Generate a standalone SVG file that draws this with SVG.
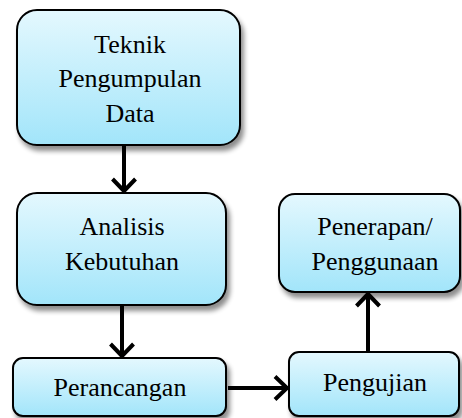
<svg xmlns="http://www.w3.org/2000/svg" width="462" height="418" viewBox="0 0 462 418">
<defs>
<linearGradient id="g" x1="0" y1="0" x2="0" y2="1">
<stop offset="0" stop-color="#e4f8fe"/>
<stop offset="1" stop-color="#a2e5fa"/>
</linearGradient>
<filter id="sh" x="-10%" y="-10%" width="125%" height="130%">
<feGaussianBlur in="SourceAlpha" stdDeviation="2.5"/>
<feOffset dx="3" dy="5"/>
<feComponentTransfer><feFuncA type="linear" slope="0.45"/></feComponentTransfer>
<feMerge><feMergeNode/><feMergeNode in="SourceGraphic"/></feMerge>
</filter>
<marker id="ah" viewBox="0 0 26 26" refX="23" refY="13" markerWidth="26" markerHeight="26" markerUnits="userSpaceOnUse" orient="auto">
<path d="M11 1.5 L23 13 L11 24.5" fill="none" stroke="#000" stroke-width="4" stroke-linejoin="miter"/>
</marker>
</defs>
<style>
.box{fill:url(#g);stroke:#000;stroke-width:2;filter:url(#sh)}
.c{stroke:#000;stroke-width:4;fill:none;marker-end:url(#ah)}
</style>
<g id="n1"><rect class="box" x="17" y="10" width="223" height="135" rx="20"/>
<text x="130" y="53" font-family="Tinos, 'Liberation Serif', serif" font-size="26" text-anchor="middle">Teknik</text>
<text x="130" y="87" font-family="Tinos, 'Liberation Serif', serif" font-size="26" text-anchor="middle">Pengumpulan</text>
<text x="130" y="122" font-family="Tinos, 'Liberation Serif', serif" font-size="26" text-anchor="middle">Data</text></g>
<g id="n2"><rect class="box" x="17" y="193" width="209" height="112" rx="20"/>
<text x="122" y="235" font-family="Tinos, 'Liberation Serif', serif" font-size="26" text-anchor="middle">Analisis</text>
<text x="122" y="270" font-family="Tinos, 'Liberation Serif', serif" font-size="26" text-anchor="middle">Kebutuhan</text></g>
<g id="n3"><rect class="box" x="13" y="358" width="213" height="58" rx="10"/>
<text x="120" y="396" font-family="Tinos, 'Liberation Serif', serif" font-size="26" text-anchor="middle">Perancangan</text></g>
<g id="n4"><rect class="box" x="289" y="352" width="170" height="64" rx="10"/>
<text x="375" y="391" font-family="Tinos, 'Liberation Serif', serif" font-size="26" text-anchor="middle">Pengujian</text></g>
<g id="n5"><rect class="box" x="279" y="194" width="181" height="98" rx="16"/>
<text x="375" y="235" font-family="Tinos, 'Liberation Serif', serif" font-size="26" text-anchor="middle">Penerapan/</text>
<text x="375" y="270" font-family="Tinos, 'Liberation Serif', serif" font-size="26" text-anchor="middle">Penggunaan</text></g>
<g id="connectors">
<line class="c" x1="124" y1="146" x2="124" y2="191"/>
<line class="c" x1="122" y1="306" x2="122" y2="356"/>
<line class="c" x1="228" y1="388" x2="287" y2="388"/>
<line class="c" x1="368" y1="352" x2="368" y2="294"/>
</g>
</svg>
